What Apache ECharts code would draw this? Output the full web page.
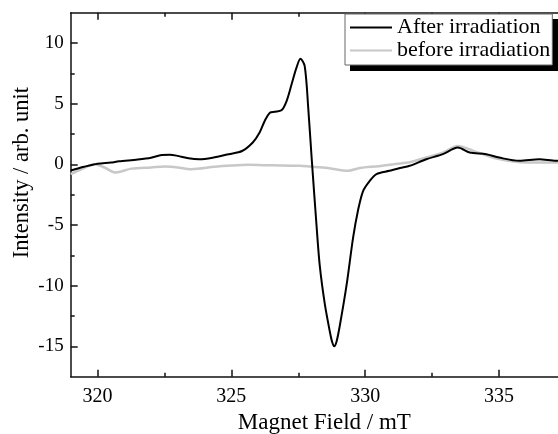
<!DOCTYPE html>
<html>
<head>
<meta charset="utf-8">
<script src="https://cdn.jsdelivr.net/npm/echarts@6/dist/echarts.min.js"></script>
<style>
  html, body { margin: 0; padding: 0; background: #fff; }
  #chart { width: 558px; height: 434px; }
</style>
</head>
<body>
<div id="chart"></div>
<script>
// spectrum after irradiation (field in mT, intensity in arb. unit)
var afterField = [319.0, 319.5, 320.0, 320.5, 320.8, 321.5, 322.0, 322.4, 322.7, 323.0, 323.4, 323.8,
  324.3, 324.9, 325.4, 325.8, 326.05, 326.25, 326.44, 326.62, 326.87, 327.06, 327.25, 327.43,
  327.58, 327.74, 327.87, 328.0, 328.18, 328.3, 328.49, 328.68, 328.76, 328.84, 328.93, 329.05,
  329.3, 329.55, 329.73, 329.92, 330.17, 330.42, 330.9, 331.3, 331.66, 332.28, 332.9, 333.46,
  333.9, 334.52, 335.0, 335.76, 336.5, 337.13, 337.2];
var afterIntensity = [-0.5, -0.2, 0.05, 0.15, 0.25, 0.4, 0.55, 0.78, 0.8, 0.7, 0.5, 0.42,
  0.55, 0.84, 1.1, 1.8, 2.6, 3.6, 4.26, 4.34, 4.45, 5.2, 6.6, 7.95,
  8.7, 8.1, 4.7, 0.5, -5.0, -8.3, -11.5, -13.8, -14.6, -15.0, -14.6, -13.3,
  -10.0, -6.0, -3.8, -2.2, -1.36, -0.8, -0.53, -0.3, -0.12, 0.42, 0.84, 1.38,
  0.97, 0.84, 0.56, 0.29, 0.42, 0.29, 0.3];

// spectrum before irradiation
var beforeField = [319.0, 319.4, 319.9, 320.3, 320.65, 321.27, 322.0, 322.52, 323.0, 323.5, 324.38,
  325.0, 325.63, 326.5, 327.56, 327.93, 328.6, 329.36, 329.8, 330.5, 331.04, 331.7, 332.28,
  332.9, 333.46, 334.15, 335.0, 336.0, 337.13, 337.2];
var beforeIntensity = [-0.8, -0.4, 0.0, -0.3, -0.67, -0.35, -0.25, -0.18, -0.25, -0.4, -0.2,
  -0.1, -0.04, -0.08, -0.12, -0.18, -0.3, -0.53, -0.3, -0.15, 0.0, 0.2, 0.56,
  0.97, 1.52, 1.03, 0.43, 0.15, 0.15, 0.15];

var xMajorTicks = [320, 325, 330, 335];
var xMinorTicks = [322.5, 327.5, 332.5];
var yMajorTicks = [-15, -10, -5, 0, 5, 10];
var yMinorTicks = [-12.5, -7.5, -2.5, 2.5, 7.5];

var xMin = 319, xMax = 337.2, yMin = -17.5, yMax = 12.5;
var serif = "'Liberation Serif', 'Times New Roman', serif";

function pairs(xs, ys) {
  return xs.map(function (x, i) { return [x, ys[i]]; });
}

var chart = echarts.init(document.getElementById("chart"));

var gridBox = { left: 70.7, top: 12.7, right: 0, bottom: 57.3, outerBoundsMode: "none" };
var axisLine = { show: true, onZero: false, lineStyle: { color: "#111", width: 1.5 } };
var noLine = { show: false, onZero: false };
var tickLine = { color: "#111", width: 1.5 };

var option = {
  animation: false,
  backgroundColor: "#fff",
  textStyle: { fontFamily: serif, color: "#000" },
  grid: [Object.assign({}, gridBox), Object.assign({}, gridBox)],
  // drop shadow behind the legend box
  graphic: [
    { type: "rect", left: 350, top: 19, z: 3, shape: { width: 208, height: 52 }, style: { fill: "#000" } },
  ],
  legend: {
    left: 345,
    top: 14,
    z: 10,
    orient: "vertical",
    padding: [2, 2, 3, 5],
    itemWidth: 42,
    itemHeight: 2,
    itemGap: 0,
    icon: "rect",
    backgroundColor: "#fff",
    borderColor: "#666",
    borderWidth: 1,
    textStyle: { fontFamily: serif, fontSize: 22, lineHeight: 23, color: "#000" },
    data: ["After irradiation", "before irradiation"],
  },
  xAxis: [
    {
      gridIndex: 0,
      type: "value",
      position: "bottom",
      min: xMin,
      max: xMax,
      axisLine: axisLine,
      axisTick: { inside: true, length: 4, customValues: xMinorTicks, lineStyle: tickLine },
      axisLabel: { show: false },
      splitLine: { show: false },
      name: "Magnet Field / mT",
      nameLocation: "middle",
      nameGap: 35,
      nameTextStyle: { fontFamily: serif, fontSize: 23, color: "#000", padding: [0, 0, 0, 20] },
    },
    {
      gridIndex: 0,
      type: "value",
      position: "top",
      min: xMin,
      max: xMax,
      axisLine: axisLine,
      axisTick: { inside: true, length: 4, customValues: xMinorTicks, lineStyle: tickLine },
      axisLabel: { show: false },
      splitLine: { show: false },
    },
    {
      gridIndex: 1,
      type: "value",
      position: "bottom",
      min: xMin,
      max: xMax,
      axisLine: noLine,
      axisTick: { inside: true, length: 7, customValues: xMajorTicks, lineStyle: tickLine },
      axisLabel: { customValues: xMajorTicks, margin: 10, fontFamily: serif, fontSize: 20, color: "#000" },
      splitLine: { show: false },
    },
    {
      gridIndex: 1,
      type: "value",
      position: "top",
      min: xMin,
      max: xMax,
      axisLine: noLine,
      axisTick: { inside: true, length: 7, customValues: xMajorTicks, lineStyle: tickLine },
      axisLabel: { show: false },
      splitLine: { show: false },
    },
  ],
  yAxis: [
    {
      gridIndex: 0,
      type: "value",
      position: "left",
      min: yMin,
      max: yMax,
      axisLine: axisLine,
      axisTick: { inside: true, length: 4, customValues: yMinorTicks, lineStyle: tickLine },
      axisLabel: { show: false },
      splitLine: { show: false },
      name: "Intensity / arb. unit",
      nameLocation: "middle",
      nameGap: 37,
      nameTextStyle: { fontFamily: serif, fontSize: 22.5, color: "#000", padding: [0, 0, 0, 44] },
    },
    {
      gridIndex: 1,
      type: "value",
      position: "left",
      min: yMin,
      max: yMax,
      axisLine: noLine,
      axisTick: { inside: true, length: 7, customValues: yMajorTicks, lineStyle: tickLine },
      axisLabel: { customValues: yMajorTicks, margin: 7, fontFamily: serif, fontSize: 19, color: "#000" },
      splitLine: { show: false },
    },
  ],
  series: [
    {
      name: "before irradiation",
      type: "line",
      xAxisIndex: 0,
      yAxisIndex: 0,
      symbol: "none",
      smooth: 0.3,
      lineStyle: { color: "#c8c8c8", width: 2.5 },
      itemStyle: { color: "#c8c8c8" },
      data: pairs(beforeField, beforeIntensity),
    },
    {
      name: "After irradiation",
      type: "line",
      xAxisIndex: 0,
      yAxisIndex: 0,
      symbol: "none",
      smooth: 0.3,
      lineStyle: { color: "#000", width: 2 },
      itemStyle: { color: "#000" },
      data: pairs(afterField, afterIntensity),
    },
  ],
};

chart.setOption(option);
</script>
</body>
</html>
